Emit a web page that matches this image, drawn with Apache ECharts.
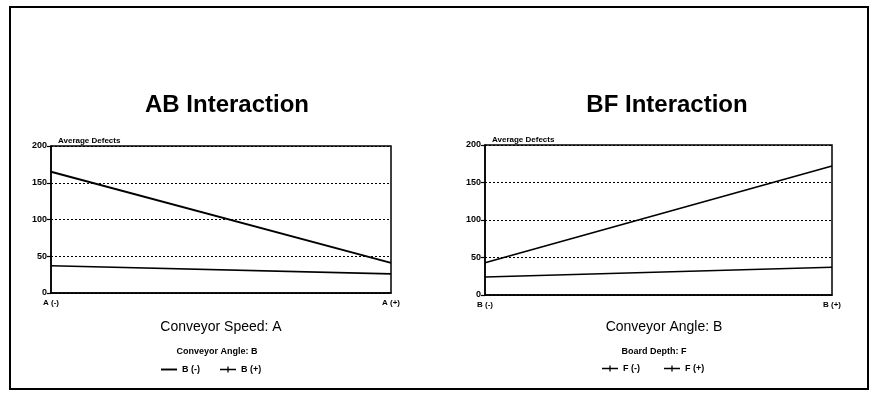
<!DOCTYPE html>
<html><head><meta charset="utf-8">
<script src="https://cdn.jsdelivr.net/npm/echarts@6/dist/echarts.min.js"></script>
<style>html,body{margin:0;padding:0;background:#fff}#c{width:873px;height:398px}</style>
</head><body><div id="c"></div>
<script>
// ---- data ----
const abCategories = ['A (-)', 'A (+)'];
const abNames = ['B (-)', 'B (+)'];
const abBminus = [165, 41];
const abBplus = [37, 26];

const bfCategories = ['B (-)', 'B (+)'];
const bfNames = ['F (-)', 'F (+)'];
const bfFminus = [24, 37];
const bfFplus = [43, 172];

const yMin = 0, yMax = 200, yStep = 50;

// ---- styles ----
const FF = "'Liberation Sans', Arial, sans-serif";
const solidIcon = 'path://M0,3h20v2.4h-20z';
const crossIcon = 'path://M0,4h20v1.6h-20z M9.2,1h1.6v7.6h-1.6z';

function yAxis(gridIndex) {
  return {
    type: 'value', gridIndex, min: yMin, max: yMax, interval: yStep,
    axisLine: {show: true, lineStyle: {color: '#000', width: 1.5}},
    axisTick: {show: true, length: 4, lineStyle: {color: '#000', width: 1.2}},
    axisLabel: {color: '#000', fontFamily: FF, fontWeight: 'bold', fontSize: 9, margin: 4},
    splitLine: {show: true, lineStyle: {color: '#000', type: [2, 2], width: 1}}
  };
}
function xAxis(gridIndex, cats) {
  return {
    type: 'category', gridIndex, data: cats, boundaryGap: false,
    axisLine: {show: true, lineStyle: {color: '#000', width: 1.5}},
    axisTick: {show: false},
    axisLabel: {color: '#000', fontFamily: FF, fontWeight: 'bold', fontSize: 8, margin: 6}
  };
}
function line(name, data, xi, w) {
  return {
    type: 'line', name, data, xAxisIndex: xi, yAxisIndex: xi,
    symbol: 'none', lineStyle: {color: '#000', width: w}, itemStyle: {color: '#000'},
    silent: true, animation: false
  };
}

const chart = echarts.init(document.getElementById('c'), null, {renderer: 'canvas'});
chart.setOption({
  animation: false,
  backgroundColor: '#fff',
  grid: [
    {left: 51, top: 146, width: 340, height: 147, show: true, borderColor: '#000', borderWidth: 1.5, backgroundColor: 'transparent'},
    {left: 485, top: 145, width: 347, height: 150, show: true, borderColor: '#000', borderWidth: 1.5, backgroundColor: 'transparent'}
  ],
  xAxis: [xAxis(0, abCategories), xAxis(1, bfCategories)],
  yAxis: [yAxis(0), yAxis(1)],
  title: [
    {text: 'AB Interaction', left: 222, top: 88, textAlign: 'center',
     textStyle: {fontFamily: FF, fontWeight: 'bold', fontSize: 24, color: '#000'}},
    {text: 'BF Interaction', left: 662, top: 88, textAlign: 'center',
     textStyle: {fontFamily: FF, fontWeight: 'bold', fontSize: 24, color: '#000'}},
    {text: 'Average Defects', left: 53, top: 132,
     textStyle: {fontFamily: FF, fontWeight: 'bold', fontSize: 8, color: '#000'}},
    {text: 'Average Defects', left: 487, top: 131,
     textStyle: {fontFamily: FF, fontWeight: 'bold', fontSize: 8, color: '#000'}},
    {text: 'Conveyor Speed: A', left: 216, top: 315, textAlign: 'center',
     textStyle: {fontFamily: FF, fontWeight: 'normal', fontSize: 14, color: '#000'}},
    {text: 'Conveyor Angle: B', left: 659, top: 315, textAlign: 'center',
     textStyle: {fontFamily: FF, fontWeight: 'normal', fontSize: 14, color: '#000'}},
    {text: 'Conveyor Angle: B', left: 212, top: 342, textAlign: 'center',
     textStyle: {fontFamily: FF, fontWeight: 'bold', fontSize: 9, color: '#000'}},
    {text: 'Board Depth: F', left: 649, top: 342, textAlign: 'center',
     textStyle: {fontFamily: FF, fontWeight: 'bold', fontSize: 9, color: '#000'}}
  ],
  legend: [
    {data: [{name: abNames[0], icon: solidIcon}, {name: abNames[1], icon: crossIcon}],
     left: 156, top: 360, itemWidth: 16, itemHeight: 9, itemGap: 20,
     textStyle: {fontFamily: FF, fontWeight: 'bold', fontSize: 9, color: '#000'}, selectedMode: false},
    {data: [{name: bfNames[0], icon: crossIcon}, {name: bfNames[1], icon: crossIcon}],
     left: 597, top: 359, itemWidth: 16, itemHeight: 9, itemGap: 24,
     textStyle: {fontFamily: FF, fontWeight: 'bold', fontSize: 9, color: '#000'}, selectedMode: false}
  ],
  series: [
    line(abNames[0], abBminus, 0, 2),
    line(abNames[1], abBplus, 0, 1.6),
    line(bfNames[0], bfFminus, 1, 1.6),
    line(bfNames[1], bfFplus, 1, 1.8)
  ],
  graphic: [
    {type: 'rect', shape: {x: 10, y: 7, width: 858, height: 382}, silent: true,
     style: {fill: 'none', stroke: '#000', lineWidth: 2}}
  ]
});
</script>
</body></html>
